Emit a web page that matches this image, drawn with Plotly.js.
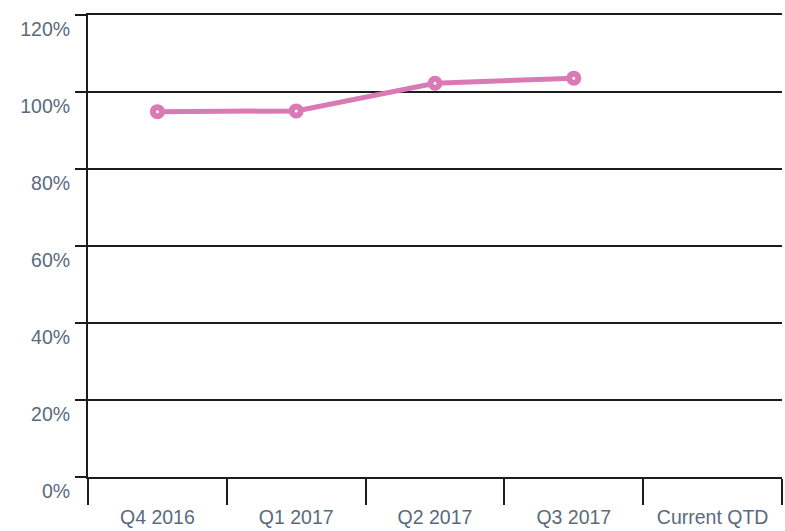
<!DOCTYPE html>
<html>
<head>
<meta charset="utf-8">
<script src="https://cdn.plot.ly/plotly-3.0.1.min.js"></script>
<style>html,body{margin:0;padding:0;background:#fff;}#chart{width:785px;height:531px;}</style>
</head>
<body>
<div id="chart"></div>
<script>
const categories = ["Q4 2016", "Q1 2017", "Q2 2017", "Q3 2017", "Current QTD"];
const seriesValues = [94.9, 95.1, 102.3, 103.6, null];
const yTickVals = [0, 20, 40, 60, 80, 100, 120];
const yTickText = ["0%", "20%", "40%", "60%", "80%", "100%", "120%"];

const pink = "#d97ab5";
const labelColor = "#5a6a7e";
const lineColor = "#1c1c1c";

const trace = {
  type: "scatter",
  mode: "lines+markers",
  x: categories,
  y: seriesValues,
  line: {color: pink, width: 5},
  marker: {symbol: "circle", size: 9, color: "#ffffff", line: {color: pink, width: 6}},
  connectgaps: false,
  hoverinfo: "skip",
  showlegend: false
};

const layout = {
  width: 785,
  height: 531,
  margin: {l: 88, r: 3, t: 15, b: 54},
  paper_bgcolor: "#ffffff",
  plot_bgcolor: "#ffffff",
  font: {family: "Liberation Sans, Arial, sans-serif", size: 19.5, color: labelColor},
  xaxis: {
    type: "category",
    categoryorder: "array",
    categoryarray: categories,
    range: [-0.5, 4.5],
    tickson: "boundaries",
    ticks: "outside",
    ticklen: 26,
    tickwidth: 2,
    tickcolor: lineColor,
    showgrid: false,
    zeroline: false,
    showline: true,
    mirror: true,
    linecolor: lineColor,
    linewidth: 2,
    ticklabelstandoff: 22,
    tickfont: {size: 19.5, color: labelColor}
  },
  yaxis: {
    range: [0, 120.01],
    tickvals: yTickVals,
    ticktext: yTickText,
    ticks: "outside",
    ticklen: 11,
    tickwidth: 2,
    tickcolor: lineColor,
    showgrid: true,
    gridcolor: lineColor,
    gridwidth: 2,
    zeroline: false,
    showline: true,
    linecolor: lineColor,
    linewidth: 2,
    ticklabelshift: 14,
    ticklabelstandoff: 1,
    tickfont: {size: 19.5, color: labelColor}
  }
};

Plotly.newPlot("chart", [trace], layout, {displayModeBar: false, staticPlot: true});
</script>
</body>
</html>
